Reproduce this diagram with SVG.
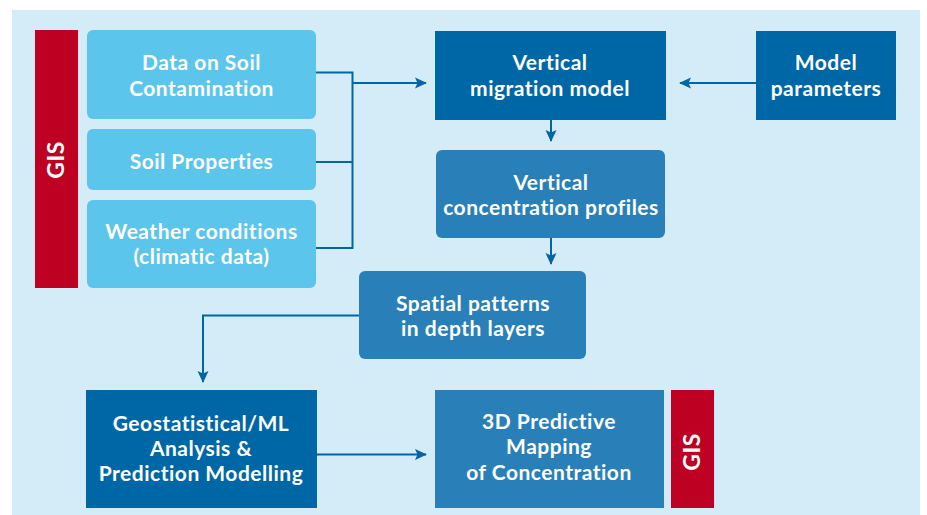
<svg xmlns="http://www.w3.org/2000/svg" width="927" height="515" viewBox="0 0 927 515">
<style>
.t{font-family:Lato,"Liberation Sans",sans-serif;font-weight:700;font-size:21px;letter-spacing:0.5px;fill:#fff;text-anchor:middle}
.g{font-size:23px;letter-spacing:0.5px}
.light{fill:#5CC5EC}
.dark{fill:#0067A6}
.mid{fill:#2980B8}
.red{fill:#BE0022}
.c{fill:none;stroke:#0067A6;stroke-width:2}
</style>
<defs>
<marker id="ah" markerWidth="12" markerHeight="12" refX="11" refY="6" orient="auto" markerUnits="userSpaceOnUse">
<path d="M0,0.5 L12,6 L0,11.5 L2.5,6 Z" fill="#0067A6"/>
</marker>
</defs>
<rect x="0" y="0" width="927" height="515" fill="#fff"/>
<rect x="12" y="10" width="908" height="505" fill="#D4EBF8"/>

<g id="gis-left">
<rect class="red" x="35" y="30" width="43" height="258"/>
<text class="t g" transform="translate(63.5,160) rotate(-90)">GIS</text>
</g>
<g id="data-soil">
<rect class="light" x="87" y="30" width="229" height="89" rx="6"/>
<text class="t" x="201.5" y="70">Data on Soil</text>
<text class="t" x="201.5" y="96">Contamination</text>
</g>
<g id="soil-props">
<rect class="light" x="87" y="129" width="229" height="61" rx="6"/>
<text class="t" x="201.5" y="169">Soil Properties</text>
</g>
<g id="weather">
<rect class="light" x="87" y="200" width="229" height="88" rx="6"/>
<text class="t" x="201.5" y="239">Weather conditions</text>
<text class="t" x="201.5" y="264">(climatic data)</text>
</g>
<g id="vmm">
<rect class="dark" x="435" y="31" width="231" height="89"/>
<text class="t" x="550" y="70">Vertical</text>
<text class="t" x="550" y="96">migration model</text>
</g>
<g id="params">
<rect class="dark" x="756" y="31" width="140" height="89"/>
<text class="t" x="826" y="70">Model</text>
<text class="t" x="826" y="96">parameters</text>
</g>
<g id="vcp">
<rect class="mid" x="436" y="150" width="229" height="88" rx="6"/>
<text class="t" x="551" y="190">Vertical</text>
<text class="t" x="551" y="215">concentration profiles</text>
</g>
<g id="spatial">
<rect class="mid" x="359" y="271" width="227" height="88" rx="6"/>
<text class="t" x="473" y="311">Spatial patterns</text>
<text class="t" x="473" y="336">in depth layers</text>
</g>
<g id="geo">
<rect class="dark" x="86" y="390" width="231" height="118"/>
<text class="t" x="201" y="431">Geostatistical/ML</text>
<text class="t" x="201" y="456">Analysis &amp;</text>
<text class="t" x="201" y="481">Prediction Modelling</text>
</g>
<g id="map3d">
<rect class="mid" x="435" y="390" width="229" height="118"/>
<text class="t" x="549" y="429">3D Predictive</text>
<text class="t" x="549" y="454">Mapping</text>
<text class="t" x="549" y="480">of Concentration</text>
</g>
<g id="gis-right">
<rect class="red" x="671" y="390" width="43" height="118"/>
<text class="t g" transform="translate(700,452) rotate(-90)">GIS</text>
</g>

<g id="connectors">
<path class="c" d="M316,72.5 H352.5 V248 H316 M316,162 H352.5"/>
<path class="c" d="M352.5,83 H426" marker-end="url(#ah)"/>
<path class="c" d="M756,83 H680" marker-end="url(#ah)"/>
<path class="c" d="M551,120 V141" marker-end="url(#ah)"/>
<path class="c" d="M551,238 V264" marker-end="url(#ah)"/>
<path class="c" d="M359,315.5 H203 V382" marker-end="url(#ah)"/>
<path class="c" d="M317,454.5 H426" marker-end="url(#ah)"/>
</g>
</svg>
